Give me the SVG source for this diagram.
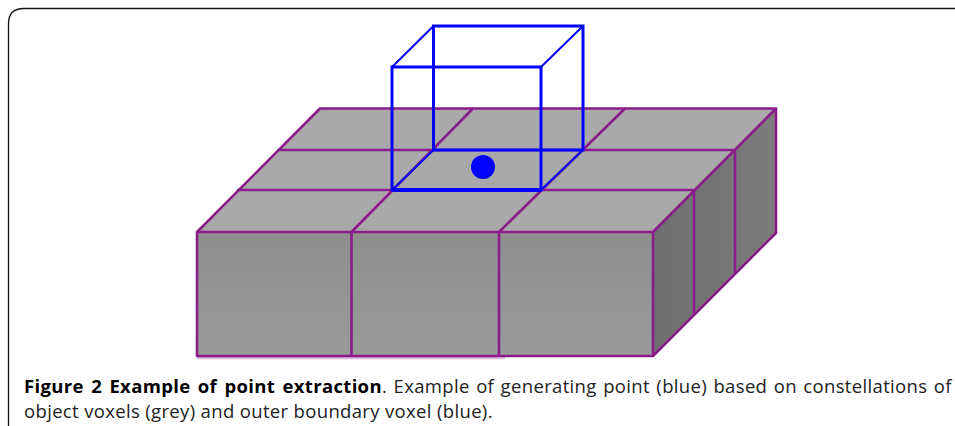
<svg xmlns="http://www.w3.org/2000/svg" width="955" height="426" viewBox="0 0 955 426">
<defs>
<linearGradient id="front" x1="0" y1="0" x2="0" y2="1"><stop offset="0" stop-color="#8e8e8e"/><stop offset="1" stop-color="#9a9a9a"/></linearGradient>
<linearGradient id="side" x1="0" y1="0" x2="1" y2="0"><stop offset="0" stop-color="#6e6e6e"/><stop offset="1" stop-color="#7c7c7c"/></linearGradient>
<filter id="soft" x="-5%" y="-5%" width="110%" height="110%"><feGaussianBlur stdDeviation="0.55"/></filter>
</defs>
<style>
.p{fill:none;stroke:#8b1a8b;stroke-width:2.6;stroke-linecap:round;stroke-linejoin:round}
.b{fill:none;stroke:#0000ff;stroke-width:3;stroke-linejoin:miter}
.d{fill:none;stroke:#0000ff;stroke-width:2}
.t{font-family:"Open Sans","Noto Sans",sans-serif;font-size:18.5px;letter-spacing:.34px;fill:#222}
</style>
<rect width="955" height="426" fill="#fff"/>
<path id="card" d="M8.500 426V24Q8.500 8.500 24 8.500H955" fill="none" stroke="#111" stroke-width="1.300"/>
<g id="voxels" filter="url(#soft)">
<polygon points="197,232 320,108.500 776,108.500 653,232" fill="#a9a9a9"/>
<rect x="197" y="232" width="456" height="124" fill="url(#front)"/>
<polygon points="653,232 776,108.500 776,233 653,356" fill="url(#side)"/>
</g>
<g id="connectors" filter="url(#soft)">
<path class="p" d="M197 232L320 108.500H776V233L653 356H197ZM197 232H653L776 108.500M279 150H735M238 190H694M351.500 232V356M499 232V356M351.500 232L473 108.500M499 232L625 108.500M653 232V356M694 190V315M735 150V274"/>
<path d="M197 358H505" stroke="#8b1a8b" stroke-width="2.500" opacity=".3"/>
</g>
<g id="boundary-voxel" filter="url(#soft)">
<path class="b" d="M392 67H541V190H392ZM433.500 26H583V150H433.500Z"/>
<path class="d" d="M392 67L433.500 26M541 67L583 26M392 190L433.500 150M541 190L583 150"/>
<path d="M392 190H541" stroke="#0000ff" stroke-width="4"/>
<circle cx="483" cy="167" r="12" fill="#0000ff"/>
</g>
<text class="t" x="24" y="393" word-spacing="1.300"><tspan font-weight="700" fill="#000" word-spacing="2.200">Figure 2 Example of point extraction</tspan>. Example of generating point (blue) based on constellations of</text>
<text class="t" x="24" y="418">object voxels (grey) and outer boundary voxel (blue).</text>
</svg>
